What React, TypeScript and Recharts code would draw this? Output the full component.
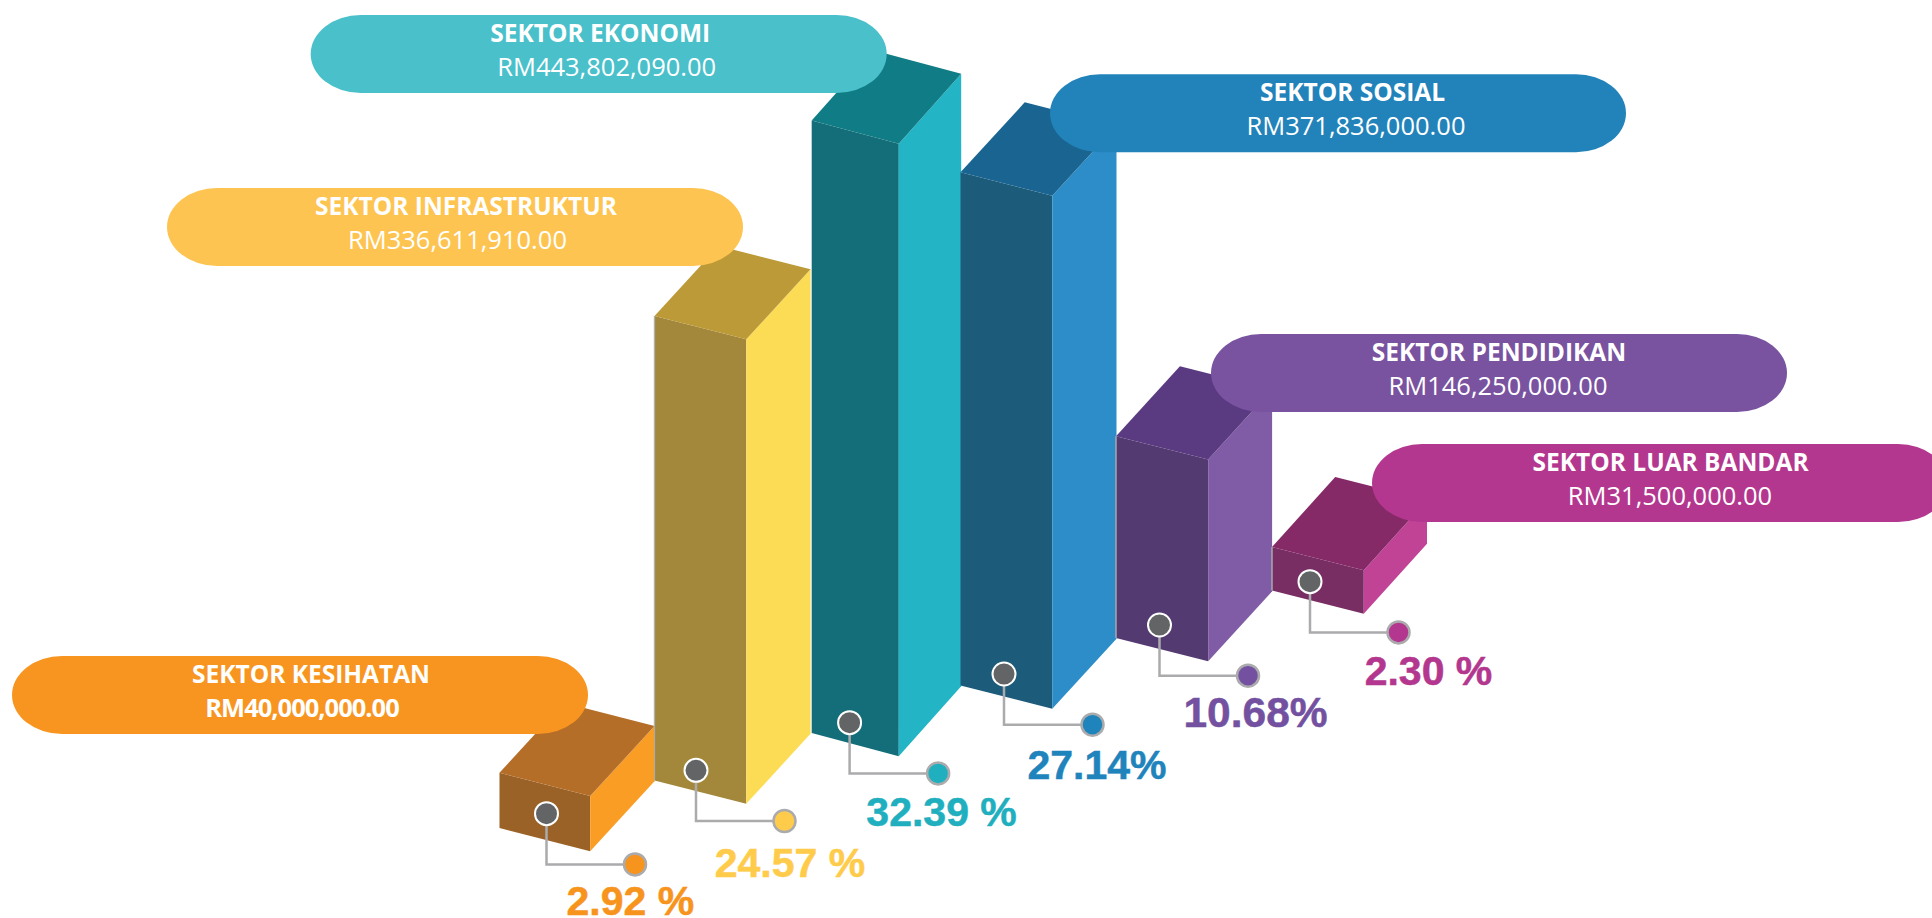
import React from "react";
import { BarChart, Bar, XAxis, YAxis } from "recharts";

// ---- data ----
const categories = ["SEKTOR KESIHATAN", "SEKTOR INFRASTRUKTUR", "SEKTOR EKONOMI", "SEKTOR SOSIAL", "SEKTOR PENDIDIKAN", "SEKTOR LUAR BANDAR"];
const amounts = [40000000, 336611910, 443802090, 371836000, 146250000, 31500000];
const percentLabels = ["2.92 %", "24.57 %", "32.39 %", "27.14%", "10.68%", "2.30 %"];

// ---- styles ----
const frontColors = ["#9A6226", "#A3873A", "#146E79", "#1C5B7A", "#533A70", "#782E62"];
const topColors = ["#B56E28", "#BC9A37", "#107C85", "#1A6491", "#5A3A80", "#852967"];
const sideColors = ["#F99D25", "#FDDC55", "#23B5C6", "#2D8DC8", "#805BA6", "#C04396"];
const pillColors = ["#F89520", "#FEC451", "#49C0CA", "#2283BA", "#7952A0", "#B3378E"];
const percentColors = ["#F7941E", "#FFCB4A", "#1FAFBF", "#1F84BC", "#7351A0", "#B3378E"];

// ---- isometric layout ----
const BASE_RISE = 47.5;
const FRONT_SHARE = 0.585;
const FRONT_DROP = 23.3;
const DEPTH_RISE = 70;
const leftNudge = [0, 0.5, 3.2, -2.5, -1.5, 0];
const midNudge = [0, 1.6, -0.4, -1.4, 0, 1.1];
const rightNudge = [0, 1.5, -2.3, -1.5, -0.4, 0];

const PILL_W = 576;
const PILL_H = 78;
const pillDx = [-487.5, -487, -497.8, 87, 93.5, 100];
const pillDy = [-116.8, -128, -105.6, -98.1, -102.2, -103];
const titleCx = [299, 299, 289.5, 302.5, 288, 298.6];
const valueCx = [290, 290.5, 296, 306, 287, 298];
const kneeDx = [47, 42, 41.1, 41, 42, 38];
const kneeDy = [-14.3, -10.2, -10.3, -11.5, -13, -8.8];
const percentDx = [-4.7, 5.5, 3.5, 4.5, 7.5, 30];
const percentDy = [50.7, 55.7, 53, 54.6, 51, 52.7];
const percentSize = [41, 41, 41, 41, 42.5, 41];
const edgeOpacity = [0, 0.7, 0, 0, 1, 1];

const fmt = (n: number) =>
  "RM" + n.toLocaleString("en-US", { minimumFractionDigits: 2, maximumFractionDigits: 2 });

const chartData = categories.map((category, i) => ({ category, amount: amounts[i] }));

const poly = (pts: number[][]) => pts.map((p) => p.join(",")).join(" ");

function Block3D(props: any) {
  const { x, y, width, height, index: i } = props;
  const rise = i * BASE_RISE;
  const top = y - rise;
  const base = top + height;
  const xL = x + leftNudge[i];
  const xM = x + width * FRONT_SHARE + midNudge[i];
  const xR = x + width + rightNudge[i];

  const L = [xL, top];
  const M = [xM, top + FRONT_DROP];
  const R = [xR, top + FRONT_DROP - DEPTH_RISE];
  const B = [xL + (xR - xM), top - DEPTH_RISE];
  const Lb = [xL, base];
  const Mb = [xM, base + FRONT_DROP];
  const Rb = [xR, base + FRONT_DROP - DEPTH_RISE];

  const pillX = x + pillDx[i];
  const pillY = top + pillDy[i];

  const kneeX = x + kneeDx[i];
  const dotY = base + kneeDy[i];
  const endX = kneeX + 88.5;
  const endY = dotY + 50.7;

  return (
    <g>
      <polygon points={poly([L, M, Mb, Lb])} fill={frontColors[i]} />
      <polygon points={poly([M, R, Rb, Mb])} fill={sideColors[i]} />
      <polygon points={poly([L, B, R, M])} fill={topColors[i]} />
      <line x1={xL} y1={top} x2={xL} y2={base} stroke="#A7A9AC" strokeWidth={1.5} strokeOpacity={edgeOpacity[i]} />

      <polyline points={poly([[kneeX, dotY], [kneeX, endY], [endX, endY]])} fill="none" stroke="#ABABAD" strokeWidth={2.5} />
      <circle cx={kneeX} cy={dotY} r={11.5} fill="#636466" stroke="#FFFFFF" strokeWidth={2} />
      <circle cx={endX} cy={endY} r={11} fill={percentColors[i]} stroke="#ABABAD" strokeWidth={2.5} />
      <text x={endX + percentDx[i]} y={endY + percentDy[i]} textAnchor="middle" fontFamily="Liberation Sans" fontWeight={700} fontSize={percentSize[i]} stroke={percentColors[i]} strokeWidth={0.5} fill={percentColors[i]}>
        {percentLabels[i]}
      </text>

      <rect x={pillX} y={pillY} width={PILL_W} height={PILL_H} rx={50} ry={39} fill={pillColors[i]} />
      <text x={pillX + titleCx[i]} y={pillY + 26.7} textAnchor="middle" fontFamily="Open Sans" fontWeight={700} fontSize={24.5} fill="#FFFFFF">
        {categories[i]}
      </text>
      <text x={pillX + valueCx[i]} y={pillY + 61} textAnchor="middle" fontFamily="Open Sans" fontWeight={i === 0 ? 700 : 400} fontSize={25.5} letterSpacing={i === 0 ? -1 : 0} fill="#FFFFFF">
        {fmt(amounts[i])}
      </text>
    </g>
  );
}

export default function App() {
  return (
    <div style={{ position: "absolute", left: 0, top: 0, width: 1932, height: 918, overflow: "hidden", background: "#FFFFFF" }}>
      <BarChart width={1932} height={918} data={chartData} margin={{ top: 0, right: 505.5, bottom: 90, left: 499.5 }} barCategoryGap={0}>
        <XAxis dataKey="category" hide />
        <YAxis hide domain={[0, 600000000]} />
        <Bar dataKey="amount" isAnimationActive={false} shape={Block3D} />
      </BarChart>
    </div>
  );
}
